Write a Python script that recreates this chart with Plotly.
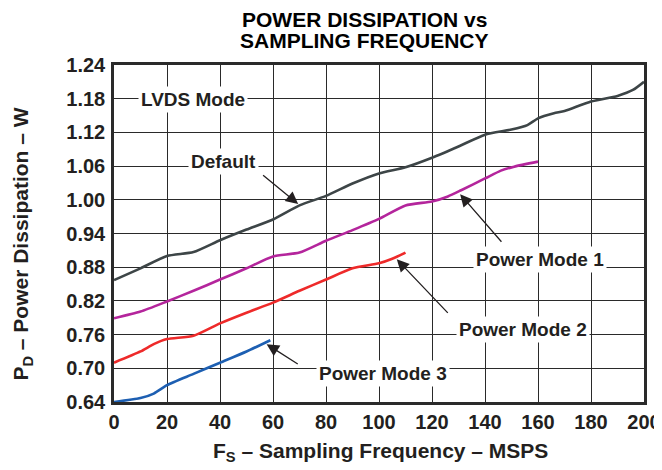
import plotly.graph_objects as go

# Data (MSPS, W)
default_x = [0, 10, 20, 30, 40, 50, 60, 70, 80, 90, 100, 110, 120, 130, 140, 150, 156, 160, 166, 170, 180, 190, 196, 200]
default_y = [0.857, 0.878, 0.900, 0.907, 0.928, 0.947, 0.965, 0.990, 1.007, 1.029, 1.047, 1.058, 1.075, 1.095, 1.116, 1.125, 1.133, 1.145, 1.154, 1.158, 1.175, 1.185, 1.196, 1.210]

pm1_x = [0, 10, 20, 30, 40, 50, 60, 70, 80, 90, 100, 110, 120, 126, 131, 140, 146, 151, 160]
pm1_y = [0.789, 0.801, 0.819, 0.838, 0.858, 0.878, 0.899, 0.906, 0.927, 0.946, 0.966, 0.990, 0.997, 1.006, 1.017, 1.038, 1.052, 1.059, 1.068]

pm2_x = [0, 10, 15, 20, 30, 40, 50, 60, 70, 80, 90, 100, 105, 110]
pm2_y = [0.710, 0.730, 0.743, 0.752, 0.758, 0.780, 0.799, 0.817, 0.838, 0.858, 0.878, 0.887, 0.895, 0.906]

pm3_x = [0, 10, 15, 20, 30, 40, 50, 59]
pm3_y = [0.640, 0.647, 0.655, 0.670, 0.690, 0.710, 0.730, 0.750]

x_ticks = list(range(0, 201, 20))
y_ticks = [0.64, 0.70, 0.76, 0.82, 0.88, 0.94, 1.00, 1.06, 1.12, 1.18, 1.24]
y_tick_labels = [f"{v:.2f}" for v in y_ticks]

FONT = "Liberation Sans, Arial, Helvetica, sans-serif"
TXT = "#231f20"

fig = go.Figure()
series = [
    (default_x, default_y, "#3d4547", "Default"),
    (pm1_x, pm1_y, "#b4259c", "Power Mode 1"),
    (pm2_x, pm2_y, "#ee2a2a", "Power Mode 2"),
    (pm3_x, pm3_y, "#1d5fb2", "Power Mode 3"),
]
for xs, ys, c, n in series:
    fig.add_trace(go.Scatter(x=xs, y=ys, mode="lines", name=n,
                             line=dict(color=c, width=2.6, shape="spline", smoothing=0.6)))

annos = []
def label(text, x, y):
    annos.append(dict(x=x, y=y, xref="x", yref="y", text=f"<b>{text}</b>", showarrow=False,
                      font=dict(family=FONT, size=19, color=TXT), bgcolor="white", borderpad=2))

def arrow(x0, y0, x1, y1):
    annos.append(dict(x=x1, y=y1, ax=x0, ay=y0, xref="x", yref="y", axref="x", ayref="y",
                      text="", showarrow=True, arrowhead=2, arrowsize=1.9, arrowwidth=1.3,
                      arrowcolor=TXT))

label("LVDS Mode", 29.8, 1.178)
label("Default", 41.5, 1.068)
label("Power Mode 1", 160.8, 0.894)
label("Power Mode 2", 154.2, 0.769)
label("Power Mode 3", 101.6, 0.691)
arrow(55.7, 1.046, 69.5, 0.9925)
arrow(146.7, 0.9226, 130.6, 1.010)
arrow(126.5, 0.796, 106.7, 0.894)
arrow(69.9, 0.706, 57.6, 0.743)

# Title lines
annos.append(dict(x=0.4717, y=1, xref="paper", yref="paper", yanchor="middle", yshift=46,
                  text="<b>POWER DISSIPATION vs</b>", showarrow=False,
                  font=dict(family=FONT, size=21, color="black")))
annos.append(dict(x=0.4717, y=1, xref="paper", yref="paper", yanchor="middle", yshift=25,
                  text="<b>SAMPLING FREQUENCY</b>", showarrow=False,
                  font=dict(family=FONT, size=21, color="black")))
# Axis titles
annos.append(dict(x=0.503, y=0, xref="paper", yref="paper", yanchor="middle", yshift=-50,
                  text="<b>F<sub>S</sub> – Sampling Frequency – MSPS</b>", showarrow=False,
                  font=dict(family=FONT, size=21, color=TXT)))
annos.append(dict(x=0, y=0.467, xref="paper", yref="paper", xanchor="center", xshift=-92,
                  textangle=-90,
                  text="<b>P<sub>D</sub> – Power Dissipation – W</b>", showarrow=False,
                  font=dict(family=FONT, size=21, color=TXT)))

# the page body adds an 8px offset, so the figure is 8px smaller and margins shifted
fig.update_layout(
    width=654, height=462,
    margin=dict(l=106, r=18, t=57, b=68),
    paper_bgcolor="white", plot_bgcolor="white",
    showlegend=False,
    annotations=annos,
)
fig.update_xaxes(range=[0, 200], tickvals=x_ticks, ticktext=[f"<b>{v}</b>" for v in x_ticks],
                 showgrid=True, gridcolor="#2a2a2a", gridwidth=1.3,
                 showline=True, linecolor="#2a2a2a", linewidth=2.5, mirror=True,
                 ticks="", zeroline=False, automargin=False,
                 tickfont=dict(family=FONT, size=20, color=TXT))
fig.update_yaxes(range=[0.64, 1.24], tickvals=y_ticks, ticktext=[f"<b>{t}</b>" for t in y_tick_labels],
                 showgrid=True, gridcolor="#2a2a2a", gridwidth=1.3,
                 showline=True, linecolor="#2a2a2a", linewidth=2.5, mirror=True,
                 ticks="outside", ticklen=2, tickcolor="rgba(0,0,0,0)", zeroline=False, automargin=False,
                 tickfont=dict(family=FONT, size=20, color=TXT))

fig.write_html("out.html")
